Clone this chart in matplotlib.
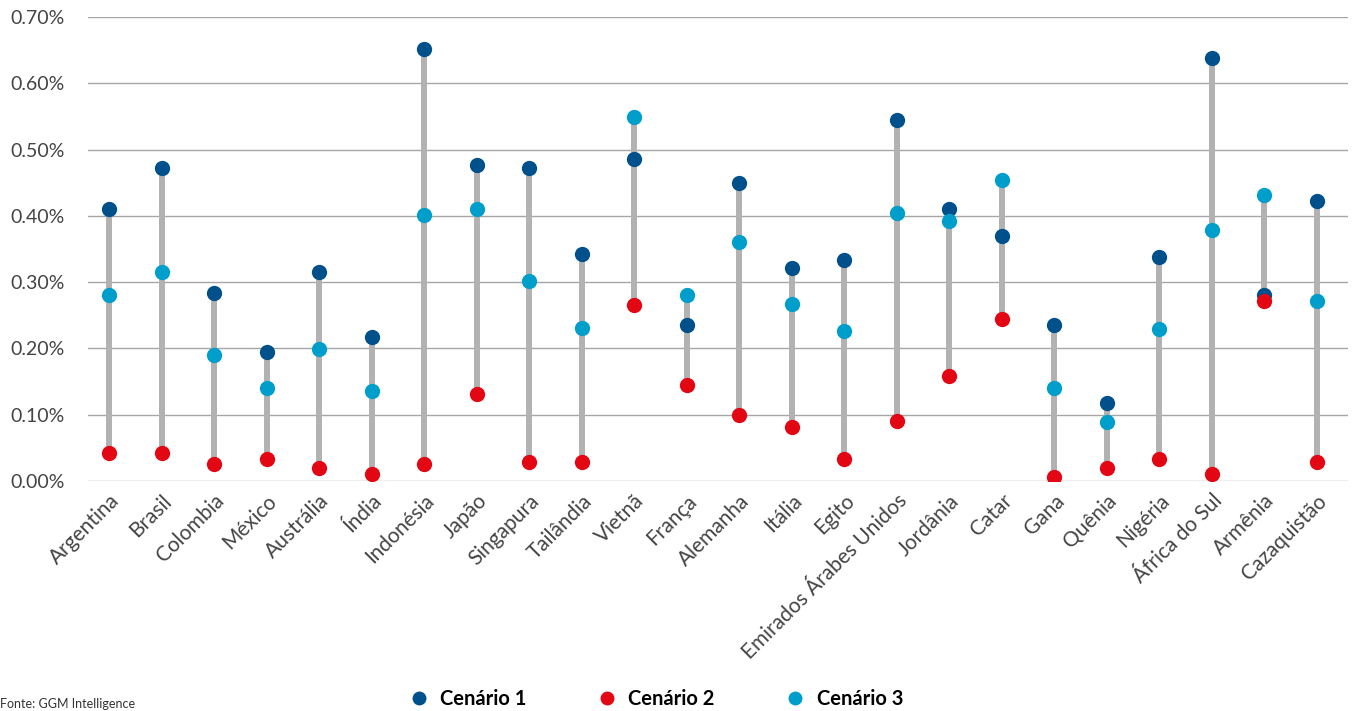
import matplotlib
matplotlib.use("Agg")
import matplotlib.pyplot as plt
from matplotlib.lines import Line2D
import numpy as np

plt.rcParams['font.family'] = ['Lato', 'DejaVu Sans']

countries = ["Argentina", "Brasil", "Colombia", "México", "Austrália", "Índia",
             "Indonésia", "Japão", "Singapura", "Tailândia", "Vietnã", "França",
             "Alemanha", "Itália", "Egito", "Emirados Árabes Unidos", "Jordânia",
             "Catar", "Gana", "Quênia", "Nigéria", "África do Sul", "Armênia",
             "Cazaquistão"]

cenario1 = [0.410, 0.473, 0.284, 0.195, 0.316, 0.217, 0.652, 0.477, 0.473, 0.343,
            0.486, 0.235, 0.450, 0.321, 0.334, 0.545, 0.410, 0.369, 0.235, 0.118,
            0.338, 0.638, 0.280, 0.423]
cenario2 = [0.042, 0.042, 0.025, 0.033, 0.020, 0.011, 0.025, 0.131, 0.029, 0.029,
            0.266, 0.145, 0.100, 0.082, 0.033, 0.091, 0.159, 0.244, 0.006, 0.020,
            0.033, 0.011, 0.271, 0.029]
cenario3 = [0.280, 0.316, 0.190, 0.141, 0.199, 0.136, 0.401, 0.410, 0.302, 0.231,
            0.549, 0.281, 0.361, 0.267, 0.226, 0.405, 0.392, 0.454, 0.141, 0.089,
            0.230, 0.378, 0.432, 0.271]

yticks = [0.0, 0.1, 0.2, 0.3, 0.4, 0.5, 0.6, 0.7]
ytick_labels = ["0.00%", "0.10%", "0.20%", "0.30%", "0.40%", "0.50%", "0.60%", "0.70%"]

c1_color = "#00508C"
c2_color = "#E30613"
c3_color = "#009FCB"
gray = "#B2B2B2"

fig = plt.figure(figsize=(13.55, 7.11), dpi=100)
ax = fig.add_axes([0.065, 0.3235, 0.930, 0.6525])

x = np.arange(len(countries))
c1 = np.array(cenario1); c2 = np.array(cenario2); c3 = np.array(cenario3)
lo = np.minimum(np.minimum(c1, c2), c3)
hi = np.maximum(np.maximum(c1, c2), c3)
ax.vlines(x, lo, hi, color=gray, linewidth=4.3, zorder=2)

ms = 11
ax.plot(x, c1, 'o', color=c1_color, markersize=ms, markeredgewidth=0, zorder=3, label="Cenário 1")
ax.plot(x, c2, 'o', color=c2_color, markersize=ms, markeredgewidth=0, zorder=4, label="Cenário 2")
ax.plot(x, c3, 'o', color=c3_color, markersize=ms, markeredgewidth=0, zorder=5, label="Cenário 3")

ax.set_xlim(-0.4, 23.6)
ax.set_ylim(0, 0.7)
ax.set_yticks(yticks)
ax.set_yticklabels(ytick_labels, fontsize=14, color="#444444")
ax.set_xticks(x)
ax.set_xticklabels(countries, rotation=45, ha='right', rotation_mode='anchor',
                   fontsize=15, color="#444444")
ax.tick_params(axis='both', length=0)
ax.tick_params(axis='y', pad=17)
ax.tick_params(axis='x', pad=7)
ax.grid(axis='y', color="#A6A6A6", linewidth=1.0, zorder=0)
ax.set_axisbelow(True)
for s in ax.spines.values():
    s.set_visible(False)

handles = [Line2D([], [], marker='o', linestyle='', color=c, markersize=10, markeredgewidth=0)
           for c in (c1_color, c2_color, c3_color)]
leg = fig.legend(handles, ["Cenário 1", "Cenário 2", "Cenário 3"], loc='center',
                 bbox_to_anchor=(0.4805, 1 - 699 / 711), ncol=3, frameon=False,
                 prop={'weight': 'bold', 'size': 14.5}, handletextpad=0.05,
                 columnspacing=3.0)

fig.text(0.0, 0.002, "Fonte: GGM Intelligence", fontsize=9, color="#333333",
         va='bottom', ha='left')

fig.savefig("out.png", dpi=100)
